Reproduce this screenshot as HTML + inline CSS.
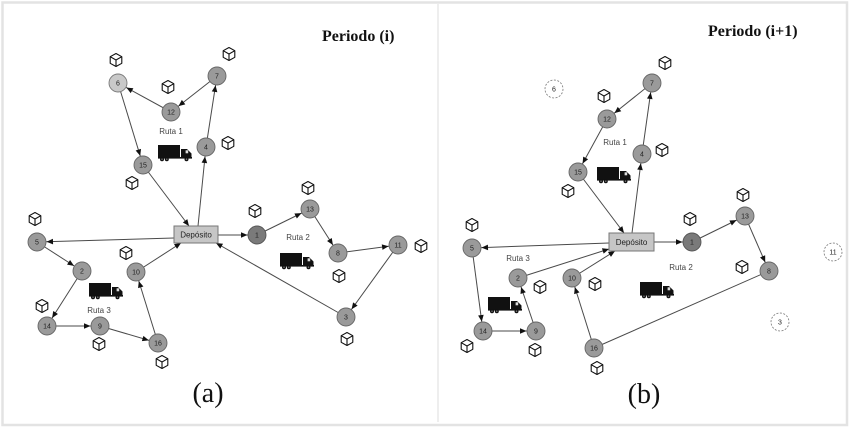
<!DOCTYPE html>
<html>
<head>
<meta charset="utf-8">
<style>
  html, body { margin: 0; padding: 0; background: #ffffff; }
  svg { display: block; }
  .t { font-family: "Liberation Sans", sans-serif; font-size: 7px; fill: #222; text-anchor: middle; }
  .r { font-family: "Liberation Sans", sans-serif; font-size: 8px; fill: #444; text-anchor: middle; }
  .h { font-family: "Liberation Serif", serif; font-weight: bold; font-size: 16px; fill: #111; }
  .cap { font-family: "Liberation Serif", serif; font-size: 28px; fill: #111; text-anchor: middle; }
  .e { stroke: #4a4a4a; stroke-width: 1; fill: none; }
  .n { fill: #9a9a9a; stroke: #666; stroke-width: 0.9; }
  .nd { fill: #7a7a7a; stroke: #555; stroke-width: 0.9; }
  .nl { fill: #c9c9c9; stroke: #7a7a7a; stroke-width: 0.9; }
  .nx { fill: #fff; stroke: #777; stroke-width: 0.8; stroke-dasharray: 2 1.5; }
  .dep { fill: #c6c6c6; stroke: #777; stroke-width: 1; }
</style>
</head>
<body>
<svg width="850" height="429" viewBox="0 0 850 429" xmlns="http://www.w3.org/2000/svg">
  <defs>
    <marker id="ac" viewBox="0 0 20 10" markerWidth="20" markerHeight="10" refX="19.5" refY="5" orient="auto" markerUnits="userSpaceOnUse">
      <path d="M3.5,2.2 L10,5 L3.5,7.8 Z" fill="#111"/>
    </marker>
    <marker id="ab" viewBox="0 0 10 10" markerWidth="10" markerHeight="10" refX="10" refY="5" orient="auto" markerUnits="userSpaceOnUse">
      <path d="M3.5,2.2 L10,5 L3.5,7.8 Z" fill="#111"/>
    </marker>
    <g id="cube" fill="none" stroke="#111" stroke-width="1.1" stroke-linejoin="round">
      <path d="M0,-6.5 L5.8,-3.3 L5.8,3.3 L0,6.5 L-5.8,3.3 L-5.8,-3.3 Z"/>
      <path d="M-5.8,-3.3 L0,0 L5.8,-3.3 M0,0 L0,6.5"/>
    </g>
    <g id="truck">
      <rect x="0" y="0" width="22" height="13" fill="#111"/>
      <path d="M23,4 H29 L33.5,8.5 V13 H23 Z" fill="#111"/>
      <rect x="27.6" y="5.3" width="2.6" height="3" fill="#ddd"/>
      <rect x="0" y="12" width="34" height="1.6" fill="#111"/>
      <circle cx="4" cy="14.2" r="2" fill="#111"/>
      <circle cx="8.8" cy="14.2" r="2" fill="#111"/>
      <circle cx="28.5" cy="14.2" r="2" fill="#111"/>
      <circle cx="4" cy="14.2" r="0.7" fill="#888"/>
      <circle cx="8.8" cy="14.2" r="0.7" fill="#888"/>
      <circle cx="28.5" cy="14.2" r="0.7" fill="#888"/>
    </g>
  </defs>

  <!-- frame -->
  <rect x="0" y="0" width="850" height="429" fill="#fff"/>
  <rect x="2.5" y="2.5" width="844.5" height="422.5" fill="none" stroke="#e3e3e3" stroke-width="2.5"/>
  <line x1="438" y1="4" x2="438" y2="422" stroke="#dcdcdc" stroke-width="1"/>

  <!-- ================= PANEL (a) ================= -->
  <text class="h" x="322" y="41">Periodo (i)</text>

  <g class="e">
    <line x1="198" y1="226" x2="206" y2="147" marker-end="url(#ac)"/>
    <line x1="206" y1="147" x2="217" y2="76" marker-end="url(#ac)"/>
    <line x1="217" y1="76" x2="171" y2="112" marker-end="url(#ac)"/>
    <line x1="171" y1="112" x2="118" y2="83" marker-end="url(#ac)"/>
    <line x1="118" y1="83" x2="143" y2="165" marker-end="url(#ac)"/>
    <line x1="143" y1="165" x2="189" y2="226" marker-end="url(#ab)"/>

    <line x1="218" y1="235" x2="257" y2="235" marker-end="url(#ac)"/>
    <line x1="257" y1="235" x2="310" y2="209" marker-end="url(#ac)"/>
    <line x1="310" y1="209" x2="338" y2="253" marker-end="url(#ac)"/>
    <line x1="338" y1="253" x2="398" y2="245" marker-end="url(#ac)"/>
    <line x1="398" y1="245" x2="346" y2="317" marker-end="url(#ac)"/>
    <line x1="346" y1="317" x2="216" y2="243" marker-end="url(#ab)"/>

    <line x1="174" y1="238" x2="37" y2="242" marker-end="url(#ac)"/>
    <line x1="37" y1="242" x2="82" y2="271" marker-end="url(#ac)"/>
    <line x1="82" y1="271" x2="47" y2="326" marker-end="url(#ac)"/>
    <line x1="47" y1="326" x2="100" y2="326" marker-end="url(#ac)"/>
    <line x1="100" y1="326" x2="158" y2="343" marker-end="url(#ac)"/>
    <line x1="158" y1="343" x2="136" y2="272" marker-end="url(#ac)"/>
    <line x1="136" y1="272" x2="181" y2="243" marker-end="url(#ab)"/>
  </g>

  <rect class="dep" x="174" y="226" width="44" height="17"/>
  <text class="t" x="196" y="237.5" style="font-size:8px">Depósito</text>

  <circle class="nd" cx="257" cy="235" r="9"/><text class="t" x="257" y="237.5">1</text>
  <circle class="n" cx="82" cy="271" r="9"/><text class="t" x="82" y="273.5">2</text>
  <circle class="n" cx="346" cy="317" r="9"/><text class="t" x="346" y="319.5">3</text>
  <circle class="n" cx="206" cy="147" r="9"/><text class="t" x="206" y="149.5">4</text>
  <circle class="n" cx="37" cy="242" r="9"/><text class="t" x="37" y="244.5">5</text>
  <circle class="nl" cx="118" cy="83" r="9"/><text class="t" x="118" y="85.5">6</text>
  <circle class="n" cx="217" cy="76" r="9"/><text class="t" x="217" y="78.5">7</text>
  <circle class="n" cx="338" cy="253" r="9"/><text class="t" x="338" y="255.5">8</text>
  <circle class="n" cx="100" cy="326" r="9"/><text class="t" x="100" y="328.5">9</text>
  <circle class="n" cx="136" cy="272" r="9"/><text class="t" x="136" y="274.5">10</text>
  <circle class="n" cx="398" cy="245" r="9"/><text class="t" x="398" y="247.5">11</text>
  <circle class="n" cx="171" cy="112" r="9"/><text class="t" x="171" y="114.5">12</text>
  <circle class="n" cx="310" cy="209" r="9"/><text class="t" x="310" y="211.5">13</text>
  <circle class="n" cx="47" cy="326" r="9"/><text class="t" x="47" y="328.5">14</text>
  <circle class="n" cx="143" cy="165" r="9"/><text class="t" x="143" y="167.5">15</text>
  <circle class="n" cx="158" cy="343" r="9"/><text class="t" x="158" y="345.5">16</text>

  <use href="#cube" x="116" y="60"/>
  <use href="#cube" x="229" y="54"/>
  <use href="#cube" x="168" y="87"/>
  <use href="#cube" x="228" y="143"/>
  <use href="#cube" x="132" y="183"/>
  <use href="#cube" x="308" y="188"/>
  <use href="#cube" x="255" y="211"/>
  <use href="#cube" x="35" y="219"/>
  <use href="#cube" x="126" y="253"/>
  <use href="#cube" x="339" y="276"/>
  <use href="#cube" x="421" y="246"/>
  <use href="#cube" x="42" y="306"/>
  <use href="#cube" x="99" y="344"/>
  <use href="#cube" x="162" y="362"/>
  <use href="#cube" x="347" y="339"/>

  <use href="#truck" x="158" y="145"/>
  <use href="#truck" x="280" y="253"/>
  <use href="#truck" x="89" y="283"/>

  <text class="r" x="171" y="134">Ruta 1</text>
  <text class="r" x="298" y="240">Ruta 2</text>
  <text class="r" x="99" y="313">Ruta 3</text>

  <text class="cap" x="208" y="402">(a)</text>

  <!-- ================= PANEL (b) ================= -->
  <text class="h" x="708" y="36">Periodo (i+1)</text>

  <g class="e">
    <line x1="632" y1="233" x2="642" y2="154" marker-end="url(#ac)"/>
    <line x1="642" y1="154" x2="652" y2="83" marker-end="url(#ac)"/>
    <line x1="652" y1="83" x2="607" y2="119" marker-end="url(#ac)"/>
    <line x1="607" y1="119" x2="578" y2="172" marker-end="url(#ac)"/>
    <line x1="578" y1="172" x2="624" y2="233" marker-end="url(#ab)"/>

    <line x1="654" y1="242" x2="692" y2="242" marker-end="url(#ac)"/>
    <line x1="692" y1="242" x2="745" y2="216" marker-end="url(#ac)"/>
    <line x1="745" y1="216" x2="769" y2="271" marker-end="url(#ac)"/>
    <line x1="769" y1="271" x2="594" y2="348"/>
    <line x1="594" y1="348" x2="572" y2="278" marker-end="url(#ac)"/>
    <line x1="572" y1="278" x2="615" y2="251" marker-end="url(#ab)"/>

    <line x1="609" y1="243" x2="472" y2="248" marker-end="url(#ac)"/>
    <line x1="472" y1="248" x2="483" y2="331" marker-end="url(#ac)"/>
    <line x1="483" y1="331" x2="536" y2="331" marker-end="url(#ac)"/>
    <line x1="536" y1="331" x2="518" y2="278" marker-end="url(#ac)"/>
    <line x1="518" y1="278" x2="609" y2="249" marker-end="url(#ab)"/>
  </g>

  <rect class="dep" x="609" y="233" width="45" height="18"/>
  <text class="t" x="631.5" y="245" style="font-size:8px">Depósito</text>

  <circle class="nd" cx="692" cy="242" r="9"/><text class="t" x="692" y="244.5">1</text>
  <circle class="n" cx="518" cy="278" r="9"/><text class="t" x="518" y="280.5">2</text>
  <circle class="nx" cx="780" cy="322" r="9"/><text class="t" x="780" y="324.5">3</text>
  <circle class="n" cx="642" cy="154" r="9"/><text class="t" x="642" y="156.5">4</text>
  <circle class="n" cx="472" cy="248" r="9"/><text class="t" x="472" y="250.5">5</text>
  <circle class="nx" cx="554" cy="89" r="9"/><text class="t" x="554" y="91.5">6</text>
  <circle class="n" cx="652" cy="83" r="9"/><text class="t" x="652" y="85.5">7</text>
  <circle class="n" cx="769" cy="271" r="9"/><text class="t" x="769" y="273.5">8</text>
  <circle class="n" cx="536" cy="331" r="9"/><text class="t" x="536" y="333.5">9</text>
  <circle class="n" cx="572" cy="278" r="9"/><text class="t" x="572" y="280.5">10</text>
  <circle class="nx" cx="833" cy="252" r="9"/><text class="t" x="833" y="254.5">11</text>
  <circle class="n" cx="607" cy="119" r="9"/><text class="t" x="607" y="121.5">12</text>
  <circle class="n" cx="745" cy="216" r="9"/><text class="t" x="745" y="218.5">13</text>
  <circle class="n" cx="483" cy="331" r="9"/><text class="t" x="483" y="333.5">14</text>
  <circle class="n" cx="578" cy="172" r="9"/><text class="t" x="578" y="174.5">15</text>
  <circle class="n" cx="594" cy="348" r="9"/><text class="t" x="594" y="350.5">16</text>

  <use href="#cube" x="665" y="63"/>
  <use href="#cube" x="604" y="96"/>
  <use href="#cube" x="662" y="150"/>
  <use href="#cube" x="568" y="191"/>
  <use href="#cube" x="743" y="195"/>
  <use href="#cube" x="690" y="219"/>
  <use href="#cube" x="472" y="225"/>
  <use href="#cube" x="540" y="287"/>
  <use href="#cube" x="595" y="284"/>
  <use href="#cube" x="742" y="267"/>
  <use href="#cube" x="467" y="346"/>
  <use href="#cube" x="535" y="350"/>
  <use href="#cube" x="597" y="368"/>

  <use href="#truck" x="597" y="167"/>
  <use href="#truck" x="488" y="297"/>
  <use href="#truck" x="640" y="282"/>

  <text class="r" x="615" y="145">Ruta 1</text>
  <text class="r" x="518" y="261">Ruta 3</text>
  <text class="r" x="681" y="270">Ruta 2</text>

  <text class="cap" x="644" y="403">(b)</text>
</svg>
</body>
</html>
